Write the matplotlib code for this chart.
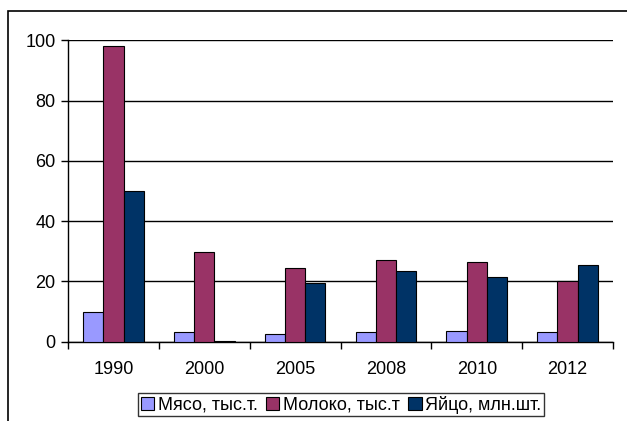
import numpy as np
import matplotlib
matplotlib.use("Agg")
import matplotlib.pyplot as plt
from matplotlib.patches import Rectangle

# data
years = ["1990", "2000", "2005", "2008", "2010", "2012"]
meat = [10.0, 3.1, 2.6, 3.2, 3.4, 3.1]
milk = [98.0, 29.6, 24.3, 27.1, 26.5, 20.1]
eggs = [50.0, 0.3, 19.6, 23.6, 21.5, 25.3]
labels = ["Мясо, тыс.т.", "Молоко, тыс.т", "Яйцо, млн.шт."]
colors = ["#9999FF", "#993366", "#003366"]

plt.rcParams['font.family'] = ['Liberation Sans', 'DejaVu Sans']
plt.rcParams['font.size'] = 13

W, H = 627, 421
fig = plt.figure(figsize=(W / 100, H / 100), dpi=100)

# plot area in pixels
x0, x1 = 68, 613
y_top, y_bot = 40.3, 341.7
ax = fig.add_axes([x0 / W, 1 - y_bot / H, (x1 - x0) / W, (y_bot - y_top) / H])

x = np.arange(len(years))
bw = 1 / 4.5  # gap width 150%
for i, (vals, lab, c) in enumerate(zip([meat, milk, eggs], labels, colors)):
    ax.bar(x + (i - 1) * bw, vals, width=bw, color=c, edgecolor="black",
           linewidth=0.8, label=lab, zorder=3)

ax.set_xlim(-0.5, len(years) - 0.5)
ax.set_ylim(0, 100)
ax.set_yticks([0, 20, 40, 60, 80, 100])
ax.yaxis.grid(True, color="black", linewidth=1.0, zorder=0)
ax.set_axisbelow(True)

# category labels centred, tick marks between categories
ax.set_xticks(x)
ax.set_xticklabels(years)
ax.tick_params(axis="x", length=0, pad=14)
ax.set_xticks(np.arange(-0.5, len(years)), minor=True)
ax.tick_params(axis="x", which="minor", length=5, width=1, direction="out")
ax.tick_params(axis="y", length=5, width=1, direction="out", pad=4)

for s in ["top", "right"]:
    ax.spines[s].set_visible(False)
ax.spines["left"].set_linewidth(1)
ax.spines["bottom"].set_linewidth(1)

leg = fig.legend(loc="center", bbox_to_anchor=(341 / W, 1 - 404.5 / H), ncol=3,
                 frameon=True, fancybox=False, handlelength=0.75, handleheight=0.75,
                 handletextpad=0.2, columnspacing=0.45, borderpad=0.15,
                 borderaxespad=0, fontsize=13)
leg.get_frame().set_edgecolor("black")
leg.get_frame().set_linewidth(1)

# outer chart border, cut off by the image edge
fig.patches.append(Rectangle((7.5 / W, -0.1), 2, 1.1 - 10.5 / H,
                             transform=fig.transFigure, fill=False,
                             edgecolor="black", linewidth=1.2))

fig.savefig("out.png", dpi=100)
